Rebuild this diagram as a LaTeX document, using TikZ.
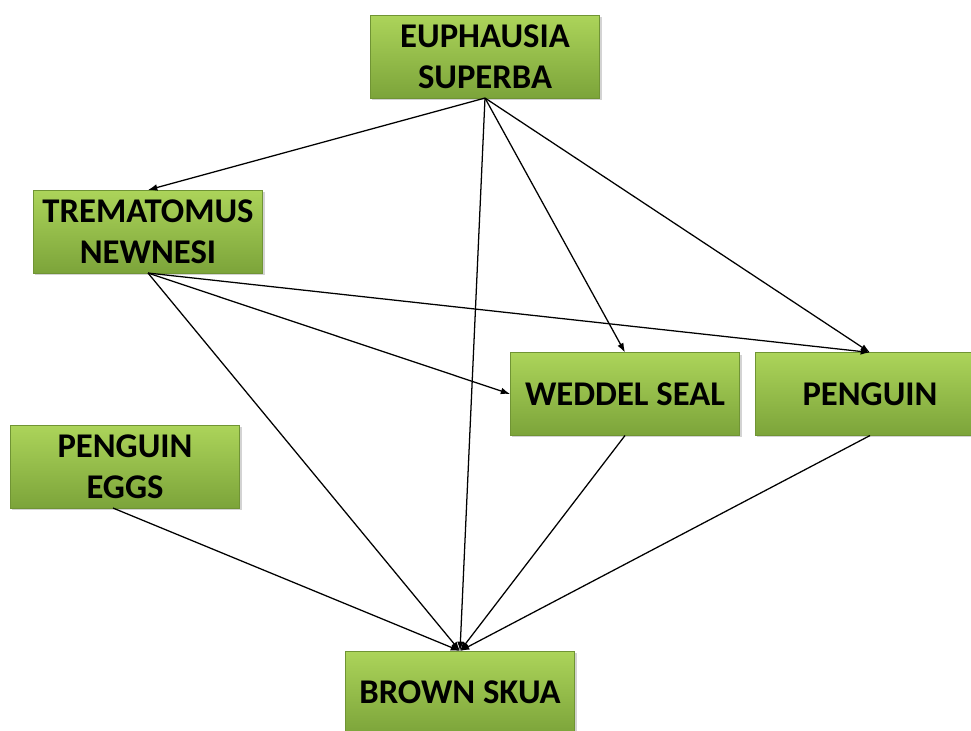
\documentclass[tikz,border=0pt]{standalone}
\usepackage{fontspec}
\setmainfont{Carlito}
\usetikzlibrary{
  arrows.meta,
  shadows,
}
\definecolor{leaftop}{RGB}{172, 212, 90}
\definecolor{leafbottom}{RGB}{124, 164, 58}
\tikzstyle{species} = [
  rectangle,
  top color=leaftop,
  bottom color=leafbottom,
  draw=leafbottom!90!black,
  line width=0.3pt,
  minimum width=172pt,
  minimum height=62pt,
  align=center,
  font=\fontsize{26}{31}\selectfont\bfseries,
  drop shadow={shadow xshift=1.5pt, shadow yshift=-1.5pt, opacity=0.35},
]
\tikzstyle{eats} = [
  -{Latex[length=7pt,width=5pt]},
  line width=0.95pt,
  black,
]

\begin{document}
\begin{tikzpicture}[x=0.75pt, y=-0.75pt]

        \useasboundingbox (0,0) rectangle (971,731);

        \node [species] (euph) at (485, 56.5) {EUPHAUSIA\\SUPERBA};

        \node [species] (trem) at (148, 231.5) {TREMATOMUS\\NEWNESI};

        \node [species] (weddel) at (625, 394) {WEDDEL SEAL};

        \node [species] (penguin) at (870, 394) {PENGUIN};

        \node [species] (eggs) at (125, 466.5) {PENGUIN\\EGGS};

        \node [species] (skua) at (460, 692.5) {BROWN SKUA};

        \draw [eats] (euph.south) -- (trem.north);
        \draw [eats] (euph.south) -- (skua.north);
        \draw [eats] (euph.south) -- (weddel.north);
        \draw [eats] (euph.south) -- (penguin.north);

        \draw [eats] (trem.south) -- (weddel.west);
        \draw [eats] (trem.south) -- (penguin.north);
        \draw [eats] (trem.south) -- (skua.north);

        \draw [eats] ([xshift=-9pt]eggs.south) -- (skua.north);
        \draw [eats] (weddel.south) -- (skua.north);
        \draw [eats] (penguin.south) -- (skua.north);
      \end{tikzpicture}
\end{document}
